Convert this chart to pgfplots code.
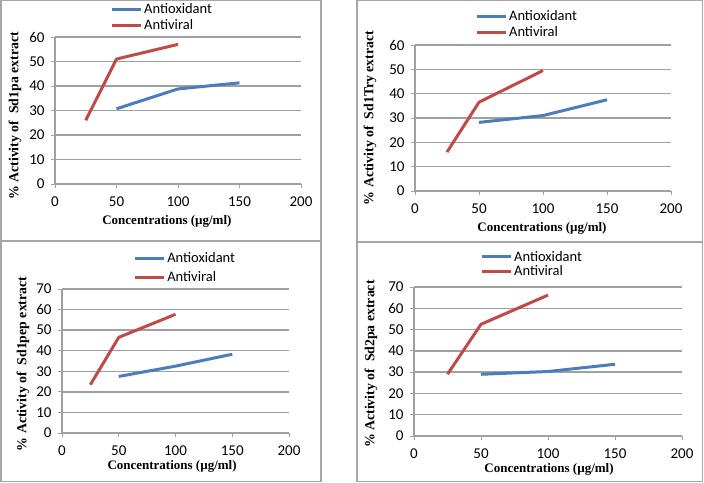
\documentclass[border=0pt]{standalone}
\usepackage{fontspec}
\setmainfont{Carlito}
\newfontfamily\timesfont{Liberation Serif}
\usepackage{pgfplots}
\pgfplotsset{compat=1.18}
\definecolor{xlblue}{HTML}{4A7EBB}
\definecolor{xlred}{HTML}{BE4B48}
\definecolor{gridgrey}{HTML}{A0A0A0}
\definecolor{framegrey}{HTML}{A6A6A6}

\pgfplotsset{panel/.style={
  scale only axis, xmin=0, xmax=200, ymin=0,
  xtick={0,50,...,200},
  axis x line=bottom, axis y line=left,
  axis line style={-, draw=gridgrey, line width=1.2pt},
  ymajorgrids, grid style={draw=gridgrey, line width=1.4pt},
  tick align=outside, major tick length=4pt,
  tick style={draw=gridgrey, line width=1pt},
  /pgf/number format/assume math mode=true,
  tick label style={font=\fontsize{15}{17}\selectfont},
  xticklabel style={yshift=-5pt},
  yticklabel style={xshift=-3pt},
  xlabel style={font=\timesfont\bfseries\fontsize{13}{15}\selectfont, anchor=center},
  ylabel style={font=\timesfont\bfseries\fontsize{13.8}{15}\selectfont, anchor=center, rotate=0},
  legend style={draw=none, fill=none, inner sep=0pt, anchor=west,
    font=\fontsize{14.5}{16}\selectfont, cells={anchor=west}},
  legend image code/.code={\draw[##1] (0pt,0pt) -- (29pt,0pt);},
  every axis plot/.append style={line width=3pt, line join=round},
  clip=false,
}}

\begin{document}
\begin{tikzpicture}
\useasboundingbox (0pt,0pt) rectangle (704pt,-482pt);
\draw[framegrey, line width=1.3pt] (1pt,-0.7pt) rectangle (321pt,-241pt);
\draw[framegrey, line width=1.3pt] (357pt,-0.7pt) rectangle (702.5pt,-242pt);
\draw[framegrey, line width=1.3pt] (1pt,-241pt) rectangle (321pt,-481.3pt);
\draw[framegrey, line width=1.3pt] (357pt,-242pt) rectangle (702.5pt,-481.3pt);

% top left: Sd1pa
\begin{axis}[panel, at={(55pt,-184pt)}, anchor=south west, width=246pt, height=147pt,
  ymax=60, ytick={0,10,...,60},
  xlabel={Concentrations (µg/ml)}, ylabel={\% Activity of\ \ Sd1pa extract},
  xlabel style={at={(axis description cs:0.455,-0.252)}},
  ylabel style={at={(axis description cs:-0.163,0.463)}},
  legend style={at={(axis description cs:0.2236,1.1327)}, row sep=0.5pt}]
\addplot[xlblue] coordinates {(50,30.7) (100,38.8) (150,41.3)};
\addlegendentry{Antioxidant}
\addplot[xlred] coordinates {(25,26) (50,51) (100,57)};
\addlegendentry{Antiviral}
\end{axis}

% top right: Sd1Try
\begin{axis}[panel, at={(415pt,-191pt)}, anchor=south west, width=256pt, height=146pt,
  ymax=60, ytick={0,10,...,60},
  xlabel={Concentrations (µg/ml)}, ylabel={\% Activity of\ \ Sd1Try extract},
  xlabel style={at={(axis description cs:0.496,-0.253)}},
  ylabel style={at={(axis description cs:-0.176,0.5)}},
  legend style={at={(axis description cs:0.234,1.140)}, row sep=0.5pt}]
\addplot[xlblue] coordinates {(50,28.2) (100,31) (150,37.5)};
\addlegendentry{Antioxidant}
\addplot[xlred] coordinates {(25,16) (50,36.5) (100,49.5)};
\addlegendentry{Antiviral}
\end{axis}

% bottom left: Sd1pep
\begin{axis}[panel, at={(62pt,-433pt)}, anchor=south west, width=227pt, height=144pt,
  ymax=70, ytick={0,10,...,70},
  xlabel={Concentrations (µg/ml)}, ylabel={\% Activity of\ \ Sd1pep extract},
  xlabel style={at={(axis description cs:0.485,-0.229)}},
  ylabel style={at={(axis description cs:-0.172,0.48)}},
  legend style={at={(axis description cs:0.313,1.146)}, row sep=3.5pt}]
\addplot[xlblue] coordinates {(50,27.5) (100,32.5) (150,38.3)};
\addlegendentry{Antioxidant}
\addplot[xlred] coordinates {(25,23.5) (50,46.5) (100,57.7)};
\addlegendentry{Antiviral}
\end{axis}

% bottom right: Sd2pa
\begin{axis}[panel, at={(414pt,-436pt)}, anchor=south west, width=268pt, height=149pt,
  ymax=70, ytick={0,10,...,70},
  xlabel={Concentrations (µg/ml)}, ylabel={\% Activity of\ \ Sd2pa extract},
  xlabel style={at={(axis description cs:0.504,-0.221)}},
  ylabel style={at={(axis description cs:-0.160,0.483)}},
  legend style={at={(axis description cs:0.246,1.154)}, row sep=-1pt}]
\addplot[xlblue] coordinates {(50,29) (100,30.3) (150,33.7)};
\addlegendentry{Antioxidant}
\addplot[xlred] coordinates {(25,29) (50,52.5) (100,66.2)};
\addlegendentry{Antiviral}
\end{axis}
\end{tikzpicture}
\end{document}
